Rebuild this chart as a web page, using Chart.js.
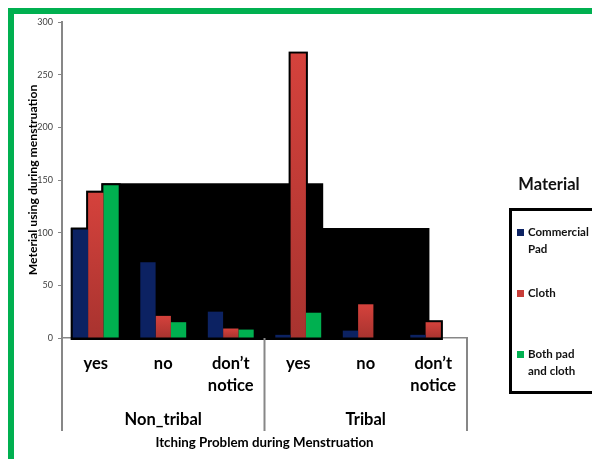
<!DOCTYPE html>
<html>
<head>
<meta charset="utf-8">
<title>Itching Problem during Menstruation</title>
<script src="https://cdn.jsdelivr.net/npm/chart.js@4/dist/chart.umd.min.js"></script>
<style>
    html, body {
        margin: 0;
        padding: 0;
        width: 592px;
        height: 459px;
        overflow: hidden;
        background: #fff;
        font-family: Lato, "Open Sans", sans-serif;
    }
    #frame {
        position: absolute;
        left: 8px;
        top: 8px;
        width: 700px;
        height: 600px;
        border-left: 6px solid #00b050;
        border-top: 6px solid #00b050;
    }
    #chart {
        position: absolute;
        left: 0;
        top: 0;
    }
    #legend-title {
        position: absolute;
        left: 500px;
        width: 98px;
        top: 174px;
        text-align: center;
        font-weight: bold;
        font-size: 16.5px;
        color: #111;
    }
    #legend {
        position: absolute;
        left: 509px;
        top: 208px;
        width: 200px;
        height: 180px;
        border: 3px solid #000;
    }
    .item {
        position: absolute;
        left: 5px;
        display: flex;
        align-items: flex-start;
        font-weight: bold;
        font-size: 11.5px;
        line-height: 16.6px;
        color: #111;
    }
    .item .swatch {
        width: 7px;
        height: 7px;
        margin-top: 5px;
        margin-right: 4px;
        flex: none;
    }
    .item .text {
        width: 64px;
    }
</style>
</head>
<body>
<div id="frame"></div>
<canvas id="chart" width="592" height="459"></canvas>
<div id="legend-title">Material</div>
<div id="legend"></div>

<script>
// Category labels (two rows: answer, then community)
const answers = ['yes', 'no', ['don’t', 'notice'], 'yes', 'no', ['don’t', 'notice']];
const groups = ['Non_tribal', 'Tribal'];

// Counts per material
const commercialPad = [103, 72, 25, 3, 7, 3];
const cloth = [138, 21, 9, 270, 32, 15];
const bothPadAndCloth = [145, 15, 8, 24, 0, 0];

const yMin = 0;
const yMax = 300;
const yStep = 50;

const AXIS_GREY = '#878787';

// Excel-style vertical shading on the cloth bars
function clothFill(context) {
    const chart = context.chart;
    const y = chart.scales.y;
    if (!y || context.raw == null) return '#c83d38';
    const top = y.getPixelForValue(context.raw);
    const base = y.getPixelForValue(0);
    if (!isFinite(top) || !isFinite(base) || base - top < 1) return '#c83d38';
    const g = chart.ctx.createLinearGradient(0, top, 0, base);
    g.addColorStop(0, '#d5423c');
    g.addColorStop(1, '#a8332f');
    return g;
}

// Black backdrop behind the bars
const backdrop = {
    id: 'backdrop',
    beforeDatasetsDraw(chart) {
        const { ctx, scales: { y } } = chart;
        const bar = (ds, i) => chart.getDatasetMeta(ds).data[i].getProps(['x', 'y', 'base', 'width'], true);
        const base = y.getPixelForValue(0) + 2;
        ctx.save();
        ctx.fillStyle = '#000';

        // thin outline round every bar
        chart.data.datasets.forEach((d, ds) => {
            d.data.forEach((v, i) => {
                if (v <= 0) return;
                const b = bar(ds, i);
                ctx.fillRect(b.x - b.width / 2 - 2, b.y - 2, b.width + 4, base - b.y + 2);
            });
        });

        // wide step at the height of the tallest Non_tribal "yes" bar
        const peak = y.getPixelForValue(Math.max(commercialPad[0], cloth[0], bothPadAndCloth[0]));
        const g0 = bar(2, 0);
        const g3 = bar(2, 3);
        const left0 = g0.x - g0.width / 2 - 2;
        ctx.fillRect(left0, peak - 2, g3.x + g3.width / 2 + 2 - left0, base - peak + 2);

        // lower step at the Non_tribal commercial pad height
        const lvl = y.getPixelForValue(commercialPad[0]);
        const b0 = bar(0, 0);
        const c5 = bar(1, 5);
        const left1 = b0.x - b0.width / 2 - 2;
        ctx.fillRect(left1, lvl - 1.5, c5.x - c5.width / 4 - left1, base - lvl + 1.5);
        ctx.restore();
    }
};

// Vertical separators of the two-row category axis
const separators = {
    id: 'separators',
    afterDraw(chart) {
        const { ctx, chartArea, scales: { x, x2 } } = chart;
        const mid = (x.getPixelForValue(2) + x.getPixelForValue(3)) / 2;
        const bottom = x2.bottom - 20;
        ctx.save();
        ctx.strokeStyle = AXIS_GREY;
        ctx.lineWidth = 2;
        [x.left, mid, x.right].forEach(px => {
            ctx.beginPath();
            ctx.moveTo(px, chartArea.bottom);
            ctx.lineTo(px, bottom);
            ctx.stroke();
        });
        ctx.restore();
    }
};

const labelFont = { family: 'Lato', weight: 'bold', size: 16.5, lineHeight: '22px' };

const chart = new Chart(document.getElementById('chart'), {
    type: 'bar',
    data: {
        labels: answers,
        datasets: [
            {
                label: 'Commercial Pad',
                data: commercialPad,
                backgroundColor: '#0c2262'
            },
            {
                label: 'Cloth',
                data: cloth,
                backgroundColor: clothFill,
                legendColor: '#c83d38'
            },
            {
                label: 'Both pad and cloth',
                data: bothPadAndCloth,
                backgroundColor: '#00b050'
            }
        ]
    },
    options: {
        responsive: false,
        animation: false,
        layout: {
            padding: { left: 10, right: 125, top: 22, bottom: 8 }
        },
        datasets: {
            bar: {
                categoryPercentage: 0.68,
                barPercentage: 1,
                borderWidth: 0
            }
        },
        plugins: {
            legend: { display: false },
            tooltip: { enabled: false }
        },
        scales: {
            x: {
                weight: 0,
                z: 1,
                afterFit(scale) {
                    scale.height = 59;
                },
                grid: { display: false, drawTicks: false, tickLength: 0 },
                border: { display: true, color: AXIS_GREY, width: 1.5 },
                ticks: {
                    color: '#000',
                    padding: 15,
                    maxRotation: 0,
                    autoSkip: false,
                    font: labelFont
                }
            },
            x2: {
                type: 'category',
                position: 'bottom',
                weight: 1,
                labels: groups,
                offset: true,
                afterFit(scale) {
                    scale.height = 54;
                },
                grid: { display: false, drawTicks: false, tickLength: 0 },
                border: { display: false },
                ticks: {
                    color: '#000',
                    padding: 12,
                    maxRotation: 0,
                    font: labelFont
                },
                title: {
                    display: true,
                    text: 'Itching Problem during Menstruation',
                    color: '#000',
                    padding: { top: 4, bottom: 0 },
                    font: { family: 'Lato', weight: 'bold', size: 13.3, lineHeight: 1.2 }
                }
            },
            y: {
                min: yMin,
                max: yMax,
                afterFit(scale) {
                    scale.width = 52;
                },
                grid: {
                    drawOnChartArea: false,
                    drawTicks: true,
                    tickLength: 4,
                    color: AXIS_GREY
                },
                border: { display: true, color: AXIS_GREY, width: 2 },
                ticks: {
                    stepSize: yStep,
                    padding: 5,
                    color: '#404040',
                    font: { family: 'Lato', size: 9 }
                },
                title: {
                    display: true,
                    text: 'Meterial using during menstruation',
                    color: '#000',
                    padding: { top: 16, bottom: 0 },
                    font: { family: 'Lato', weight: 'bold', size: 12.2, lineHeight: 1.2 }
                }
            }
        }
    },
    plugins: [backdrop, separators]
});

// Legend box on the right, built from the datasets
const itemTops = [13, 74, 135];
const legend = document.getElementById('legend');
chart.data.datasets.forEach((ds, i) => {
    const item = document.createElement('div');
    item.className = 'item';
    item.style.top = itemTops[i] + 'px';
    const swatch = document.createElement('span');
    swatch.className = 'swatch';
    swatch.style.background = ds.legendColor || ds.backgroundColor;
    const text = document.createElement('span');
    text.className = 'text';
    text.textContent = ds.label;
    item.appendChild(swatch);
    item.appendChild(text);
    legend.appendChild(item);
});
</script>
</body>
</html>
